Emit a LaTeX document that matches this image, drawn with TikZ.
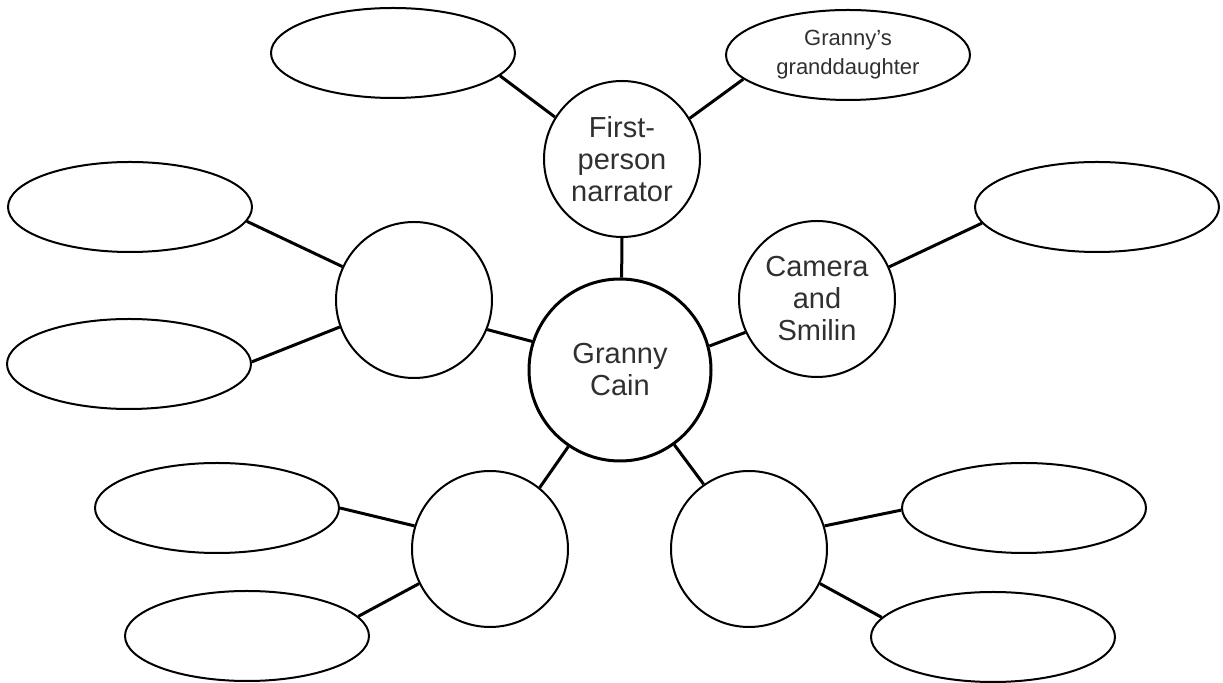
\documentclass[tikz,border=0pt]{standalone}
\usepackage{fontspec}
\setmainfont{Liberation Sans}
\usepackage{tikz}
\usetikzlibrary{shapes,positioning,calc}
\definecolor{inkgrey}{HTML}{303030}

\begin{document}
\begin{tikzpicture}[x=0.5pt, y=-0.5pt,
    topic/.style={draw, circle, line width=1pt, minimum size=78pt, inner sep=0pt, align=center, text=inkgrey, font=\fontsize{14.5}{16}\selectfont},
    detail/.style={draw, ellipse, line width=1pt, minimum width=122pt, minimum height=45pt, inner sep=0pt, align=center, text=inkgrey, font=\fontsize{11}{14.5}\selectfont},
    link/.style={line width=1.5pt}]
    \useasboundingbox (0,0) rectangle (1223,683);

    % centre
    \node [topic, minimum size=91pt, line width=1.5pt] (gc) at (620,370) {Granny\\Cain};

    % circles round it
    \node [topic] (fp) at (622,159) {First-\\person\\narrator};
    \node [topic] (cs) at (817,299) {Camera\\and\\Smilin};
    \node [topic] (lc) at (414,300) {};
    \node [topic] (bl) at (490,549) {};
    \node [topic] (br) at (749,549) {};

    % ellipses
    \node [detail] (d2) at (848,55) {Granny’s\\granddaughter};
    \foreach \n/\x/\y in {1/393/53, 3/130/207, 4/129/364, 5/1097/207, 6/217/508, 7/247/636, 8/1024/508, 9/993/637} {
        \node [detail] (d\n) at (\x,\y) {};
    }

    % links
    \draw [link] (d1.-12) -- (fp.148);
    \draw [link] (fp.31) -- (d2.193);
    \draw [link] (fp.south) -- (gc.89);
    \draw [link] (d3.-7) -- (lc.155);
    \draw [link] (d4.1) -- (lc.200);
    \draw [link] (lc.-22) -- (gc.162);
    \draw [link] (gc.15) -- (cs.205);
    \draw [link] (cs.24) -- (d5.188);
    \draw [link] (gc.236) -- (bl.51);
    \draw [link] (gc.-54) -- (br.125);
    \draw [link] (d6.0) -- (bl.163);
    \draw [link] (d7.10) -- (bl.206);
    \draw [link] (br.17) -- (d8.181);
    \draw [link] (br.-26) -- (d9.170);
\end{tikzpicture}
\end{document}
